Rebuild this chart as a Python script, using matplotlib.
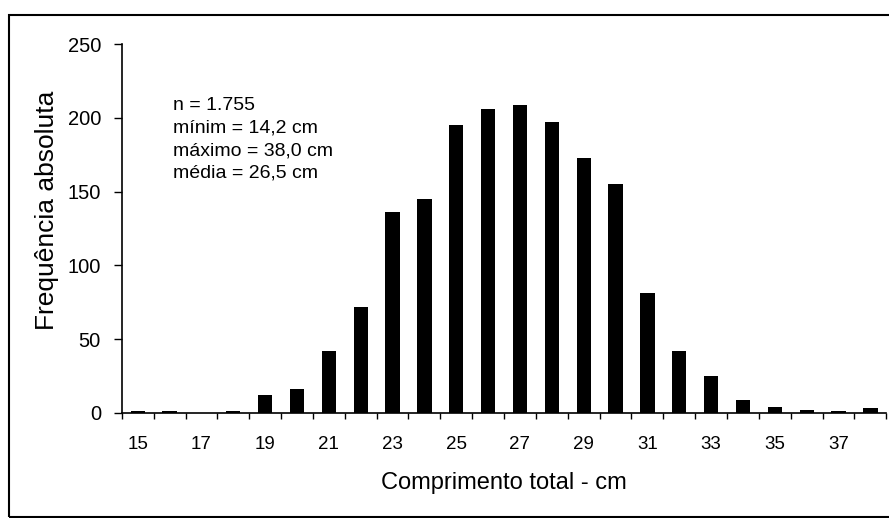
import matplotlib

matplotlib.use("Agg")
import matplotlib.pyplot as plt
from matplotlib.patches import Rectangle

# comprimento total (cm) por classe e frequencia absoluta
classes = list(range(15, 39))
freq = [1, 1, 0, 1, 12, 16, 42, 72, 136, 145, 195, 206,
        209, 197, 173, 155, 81, 42, 25, 9, 4, 2, 1, 3]
tick_labels = [str(c) if c % 2 == 1 else "" for c in classes]
stats_text = "n = 1.755\nmínim = 14,2 cm\nmáximo = 38,0 cm\nmédia = 26,5 cm"

plt.rcParams["font.family"] = ["Liberation Sans", "DejaVu Sans"]

fig = plt.figure(figsize=(8.89, 5.18), dpi=100, facecolor="white")
ax = fig.add_axes([0.137, 0.203, 0.860, 0.712])

pos = list(range(len(classes)))
ax.bar(pos, freq, width=0.45, color="black")

ax.set_xlim(-0.5, len(classes) - 0.5)
ax.set_ylim(0, 250)
ax.set_yticks([0, 50, 100, 150, 200, 250])
ax.set_xticks(pos)
ax.set_xticklabels(tick_labels)
# ticks sit between the classes
ax.set_xticks([p - 0.5 for p in pos] + [len(classes) - 0.5], minor=True)
ax.tick_params(axis="x", which="major", length=0, pad=17, labelsize=13.5)
ax.tick_params(axis="x", which="minor", length=4, width=1, direction="out")
ax.tick_params(axis="y", length=6, width=1, labelsize=14.5, pad=9)

for s in ("top", "right"):
    ax.spines[s].set_visible(False)
for s in ("left", "bottom"):
    ax.spines[s].set_linewidth(1.2)

ax.set_ylabel("Frequência absoluta", fontsize=19)
ax.yaxis.set_label_coords(-0.082, 0.55)
ax.set_xlabel("Comprimento total - cm", fontsize=17, labelpad=13)

fig.text(0.195, 0.812, stats_text, fontsize=14, va="top", ha="left",
         linespacing=1.42)

# moldura externa
fig.patches.append(Rectangle((0.010, 0.002), 0.995, 0.970,
                             transform=fig.transFigure, fill=False,
                             edgecolor="black", linewidth=1.5))

fig.savefig("out.png", dpi=100, facecolor="white")
